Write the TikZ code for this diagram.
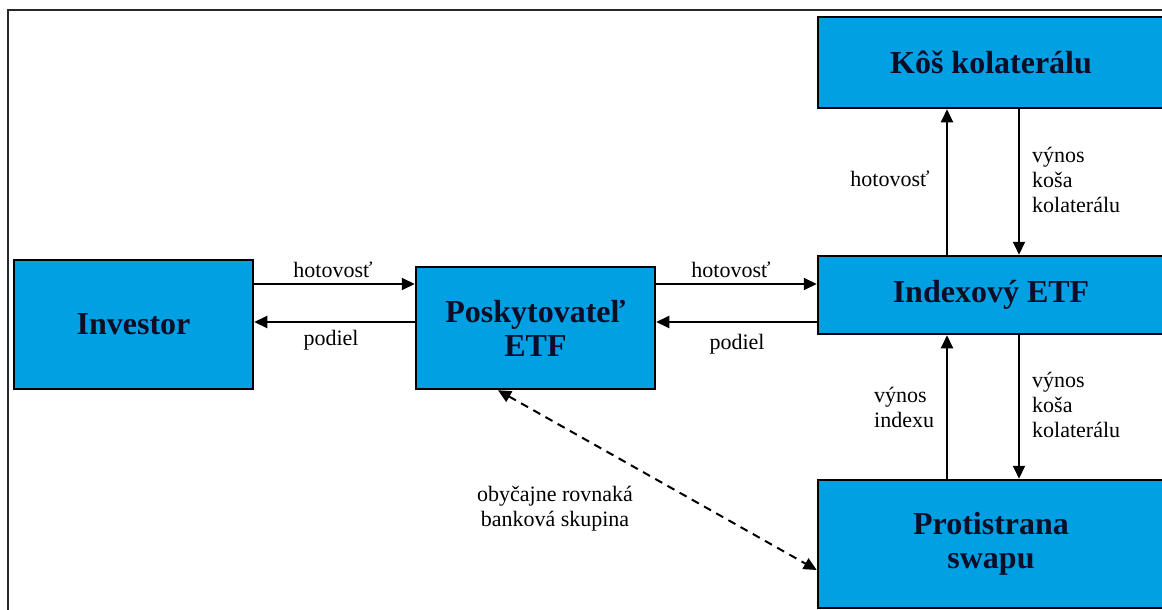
\documentclass[tikz,border=0pt]{standalone}
\usepackage{fontspec}
\setmainfont{Liberation Serif}
\usetikzlibrary{arrows.meta}
\definecolor{boxblue}{RGB}{0,160,227}
\definecolor{boxtext}{RGB}{12,14,40}
\definecolor{framegray}{RGB}{40,40,40}
\tikzset{
  box/.style={draw=black, line width=2.5pt, fill=boxblue, inner sep=0pt,
    font=\fontsize{32}{34}\selectfont\bfseries, text=boxtext, align=center},
  lbl/.style={inner sep=0pt, font=\fontsize{22}{25}\selectfont, text=black},
  arr/.style={line width=2pt, -{Triangle[length=13pt,width=12pt]}},
  dasharr/.style={line width=2pt, {Triangle[length=13pt,width=12pt]}-{Triangle[length=13pt,width=12pt]}, dash pattern=on 8pt off 6pt}
}
\begin{document}
\begin{tikzpicture}[x=1pt,y=-1pt]
\useasboundingbox (0,0) rectangle (1162,610);
\clip (0,0) rectangle (1162,610);
\draw[framegray, line width=2pt] (8,614) -- (8,10) -- (1166,10);

\node[box, minimum width=239pt, minimum height=129pt] (inv) at (133.5,324.5) {Investor};
\node[box, minimum width=239pt, minimum height=122pt] (posk) at (535.5,328) {Poskytovateľ\\ETF};
\node[box, minimum width=346pt, minimum height=91pt] (kos) at (991,62.5) {Kôš kolaterálu};
\node[box, minimum width=346pt, minimum height=78pt] (idx) at (991,295) {Indexový ETF};
\node[box, minimum width=346pt, minimum height=128pt] (prot) at (991,544) {Protistrana\\swapu};

\coordinate (yh) at (0,284);
\coordinate (yp) at (0,322);
\draw[arr] (inv.east |- yh) -- (posk.west |- yh);
\draw[arr] (posk.west |- yp) -- (inv.east |- yp);
\draw[arr] (posk.east |- yh) -- (idx.west |- yh);
\draw[arr] (idx.west |- yp) -- (posk.east |- yp);

\coordinate (xu) at (947,0);
\coordinate (xd) at (1019,0);
\draw[arr] (idx.north -| xu) -- (kos.south -| xu);
\draw[arr] (kos.south -| xd) -- (idx.north -| xd);
\draw[arr] (prot.north -| xu) -- (idx.south -| xu);
\draw[arr] (idx.south -| xd) -- (prot.north -| xd);

\coordinate (xdash) at (498,0);
\coordinate (ydash) at (0,570);
\draw[dasharr] (posk.south -| xdash) -- (prot.west |- ydash);

\node[lbl, anchor=base] (l1) at (333,277) {hotovosť};
\node[lbl, anchor=base] (l2) at (331,345) {podiel};
\node[lbl, anchor=base] (l3) at (731,277) {hotovosť};
\node[lbl, anchor=base] (l4) at (737,349) {podiel};
\node[lbl, anchor=base] (l5) at (890,186) {hotovosť};
\node[lbl, anchor=base west, align=left] (l6) at (1032,212) {výnos\\koša\\kolaterálu};
\node[lbl, anchor=base west, align=left] (l7) at (874,427) {výnos\\indexu};
\node[lbl, anchor=base west, align=left] (l8) at (1032,437) {výnos\\koša\\kolaterálu};
\node[lbl, anchor=base, align=center] (l9) at (555,526) {obyčajne rovnaká\\banková skupina};
\end{tikzpicture}
\end{document}
